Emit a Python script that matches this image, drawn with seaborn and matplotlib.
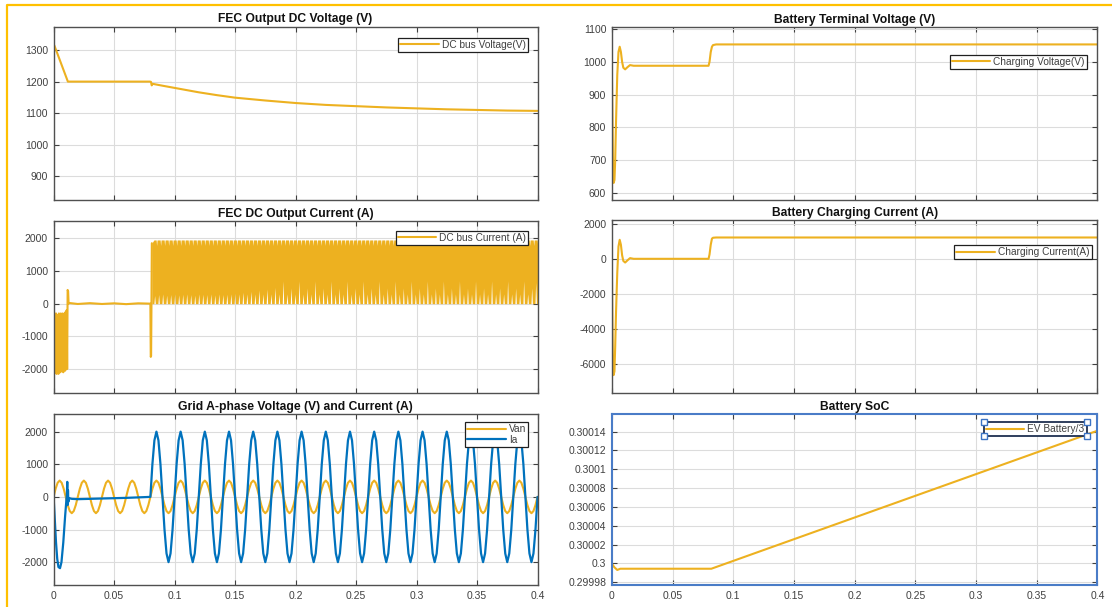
import numpy as np
import matplotlib
matplotlib.use("Agg")
import matplotlib.pyplot as plt
import seaborn as sns
from matplotlib.lines import Line2D

# ---------------- data ----------------

# FEC output DC voltage (V)
dcv_t = [0, 0, 0.0006, 0.0118, 0.0797, 0.0805, 0.0811, 0.0818, 0.09, 0.1, 0.11, 0.12,
         0.135, 0.15, 0.175, 0.2, 0.225, 0.25, 0.275, 0.3, 0.325, 0.35, 0.375, 0.4]
dcv = [882, 1290, 1315, 1200, 1200, 1199, 1188, 1193, 1187, 1180, 1173, 1166,
       1157, 1149, 1140, 1132, 1126, 1122, 1118, 1115, 1112, 1110, 1108, 1107]

# battery terminal voltage (V)
bv_t = [0, 0.0005, 0.001, 0.0015, 0.0022, 0.0028, 0.0035, 0.0045, 0.0055, 0.0065, 0.0075,
        0.0085, 0.0095, 0.011, 0.013, 0.015, 0.018, 0.0797, 0.0805, 0.0815, 0.0825, 0.0834, 0.086, 0.4]
bv = [988, 850, 680, 631, 640, 700, 820, 960, 1030, 1046, 1030,
      1000, 982, 977, 984, 990, 988, 988, 1000, 1030, 1046, 1051, 1053, 1053]

# battery charging current (A)
bi_t = bv_t
bi = [0, -3500, -6300, -6620, -6400, -5000, -3000, -800, 700, 1083, 800,
      200, -120, -211, -80, 40, 0, 0, 250, 800, 1150, 1200, 1214, 1214]

# FEC DC output current (A): start-up transient as a line ...
dci_t = [0, 0.0004, 0.0008, 0.0012, 0.0016, 0.002, 0.0024, 0.0028, 0.0032, 0.0036,
         0.004, 0.0044, 0.0048, 0.0052, 0.0056, 0.006, 0.0064, 0.0068, 0.0072, 0.0076,
         0.008, 0.0084, 0.0088, 0.0092, 0.0096, 0.01, 0.0104, 0.0108, 0.0112,
         0.0116, 0.012, 0.0124, 0.013, 0.02, 0.03, 0.04, 0.05, 0.06, 0.07,
         0.08, 0.0803, 0.0806, 0.0809, 0.0812]
dci = [0, -300, -1500, -350, -2000, -300, -2150, -400, -2100, -350,
       -2150, -300, -2000, -450, -2100, -300, -2050, -400, -1900, -300,
       -2100, -350, -2000, -300, -2050, -250, -1950, -200, -2000,
       420, 380, 0, 20, -10, 15, -10, 10, -15, 10,
       0, -1630, -1600, 0, 1850]
# ... and the switching band after 0.08 s (top level, notch level, bottom gap heights)
band_top = 1950
notch_lvl = 1780
slot_h = [250, 280, 300, 260, 280, 300, 270, 290, 300, 280, 260, 300, 290, 280, 300, 270,
          300, 280, 290, 300, 320, 300, 350, 300, 380, 300, 420, 300, 450, 300, 500, 300,
          700, 300, 480, 300, 700, 300, 480, 300, 700, 300, 480, 300, 700, 300, 480, 300,
          700, 300, 480, 300, 700, 300, 480, 300, 700, 300, 480, 300, 700, 300, 480, 300,
          700, 300, 480, 300, 700, 300, 480, 300, 700, 300, 480, 300, 700, 300, 480, 300,
          700, 300, 480, 300, 700, 300, 480, 300, 700, 300, 480, 300, 700, 300, 480, 650]

# grid A-phase voltage and current, sampled 12 times per 50 Hz cycle
t_ac = np.linspace(0, 0.4, 241)
van = [
    0, 250, 433, 500, 433, 250, 0, -250, -433, -500, -433, -250,
    0, 250, 433, 500, 433, 250, 0, -250, -433, -500, -433, -250,
    0, 250, 433, 500, 433, 250, 0, -250, -433, -500, -433, -250,
    0, 250, 433, 500, 433, 250, 0, -250, -433, -500, -433, -250,
    0, 250, 433, 500, 433, 250, 0, -250, -433, -500, -433, -250,
    0, 250, 433, 500, 433, 250, 0, -250, -433, -500, -433, -250,
    0, 250, 433, 500, 433, 250, 0, -250, -433, -500, -433, -250,
    0, 250, 433, 500, 433, 250, 0, -250, -433, -500, -433, -250,
    0, 250, 433, 500, 433, 250, 0, -250, -433, -500, -433, -250,
    0, 250, 433, 500, 433, 250, 0, -250, -433, -500, -433, -250,
    0, 250, 433, 500, 433, 250, 0, -250, -433, -500, -433, -250,
    0, 250, 433, 500, 433, 250, 0, -250, -433, -500, -433, -250,
    0, 250, 433, 500, 433, 250, 0, -250, -433, -500, -433, -250,
    0, 250, 433, 500, 433, 250, 0, -250, -433, -500, -433, -250,
    0, 250, 433, 500, 433, 250, 0, -250, -433, -500, -433, -250,
    0, 250, 433, 500, 433, 250, 0, -250, -433, -500, -433, -250,
    0, 250, 433, 500, 433, 250, 0, -250, -433, -500, -433, -250,
    0, 250, 433, 500, 433, 250, 0, -250, -433, -500, -433, -250,
    0, 250, 433, 500, 433, 250, 0, -250, -433, -500, -433, -250,
    0, 250, 433, 500, 433, 250, 0, -250, -433, -500, -433, -250,
    0]
# Ia start-up transient (before the converter starts at 0.08 s)
ia_t0 = [0, 0.001, 0.002, 0.003, 0.004, 0.0053, 0.0065, 0.008, 0.0095, 0.0105, 0.011,
         0.0113, 0.0116, 0.0119, 0.0122, 0.0125, 0.013, 0.015, 0.02, 0.03, 0.04, 0.05,
         0.06, 0.07]
ia_v0 = [0, -700, -1400, -1900, -2150, -2184, -2000, -1400, -600, -150, 100,
         460, -250, 200, -150, -60, -40, -60, -70, -60, -50, -40,
         -30, -15]
# Ia from 0.08 s on, same 12-per-cycle sampling as t_ac
ia_late = [
    0, 1000, 1732, 2000, 1732, 1000, 0, -1000, -1732, -2000, -1732, -1000,
    0, 1000, 1732, 2000, 1732, 1000, 0, -1000, -1732, -2000, -1732, -1000,
    0, 1000, 1732, 2000, 1732, 1000, 0, -1000, -1732, -2000, -1732, -1000,
    0, 1000, 1732, 2000, 1732, 1000, 0, -1000, -1732, -2000, -1732, -1000,
    0, 1000, 1732, 2000, 1732, 1000, 0, -1000, -1732, -2000, -1732, -1000,
    0, 1000, 1732, 2000, 1732, 1000, 0, -1000, -1732, -2000, -1732, -1000,
    0, 1000, 1732, 2000, 1732, 1000, 0, -1000, -1732, -2000, -1732, -1000,
    0, 1000, 1732, 2000, 1732, 1000, 0, -1000, -1732, -2000, -1732, -1000,
    0, 1000, 1732, 2000, 1732, 1000, 0, -1000, -1732, -2000, -1732, -1000,
    0, 1000, 1732, 2000, 1732, 1000, 0, -1000, -1732, -2000, -1732, -1000,
    0, 1000, 1732, 2000, 1732, 1000, 0, -1000, -1732, -2000, -1732, -1000,
    0, 1000, 1732, 2000, 1732, 1000, 0, -1000, -1732, -2000, -1732, -1000,
    0, 1000, 1732, 2000, 1732, 1000, 0, -1000, -1732, -2000, -1732, -1000,
    0, 1000, 1732, 2000, 1732, 1000, 0, -1000, -1732, -2000, -1732, -1000,
    0, 1000, 1732, 2000, 1732, 1000, 0, -1000, -1732, -2000, -1732, -1000,
    0, 1000, 1732, 2000, 1732, 1000, 0, -1000, -1732, -2000, -1732, -1000,
    0]

# battery SoC
soc_t = [0, 0.002, 0.0045, 0.007, 0.082, 0.4]
soc = [0.3, 0.299996, 0.299993, 0.2999943, 0.2999943, 0.300141]

x_ticks = [0, 0.05, 0.1, 0.15, 0.2, 0.25, 0.3, 0.35, 0.4]
x_labels = ["0", "0.05", "0.1", "0.15", "0.2", "0.25", "0.3", "0.35", "0.4"]
soc_ticks = [0.29998, 0.3, 0.30002, 0.30004, 0.30006, 0.30008, 0.3001, 0.30012, 0.30014]
soc_labels = ["0.29998", "0.3", "0.30002", "0.30004", "0.30006", "0.30008", "0.3001", "0.30012", "0.30014"]

# ---------------- styling ----------------
YEL = "#EDB120"
BLU = "#0072BD"

sns.set_theme(style="whitegrid")
plt.rcParams["font.family"] = ["Liberation Sans", "DejaVu Sans"]
plt.rcParams["axes.unicode_minus"] = False
plt.rcParams["axes.edgecolor"] = "#404040"
plt.rcParams["grid.color"] = "#DCDCDC"
plt.rcParams["grid.linewidth"] = 0.8

fig = plt.figure(figsize=(11.12, 6.07), dpi=100)
fig.patch.set_facecolor("white")

W, H = 1112, 607
def box(x0, x1, y0, y1):
    return [x0 / W, 1 - y1 / H, (x1 - x0) / W, (y1 - y0) / H]

ax1 = fig.add_axes(box(53.6, 537.5, 26.5, 200))
ax2 = fig.add_axes(box(611.8, 1097.4, 26.7, 200))
ax3 = fig.add_axes(box(53.6, 537.5, 221, 393))
ax4 = fig.add_axes(box(611.8, 1097.4, 220, 393))
ax5 = fig.add_axes(box(53.6, 537.5, 414, 585))
ax6 = fig.add_axes(box(611.8, 1097.4, 414, 585))

lw = 1.5
sns.lineplot(x=dcv_t, y=dcv, ax=ax1, color=YEL, lw=lw, estimator=None, sort=False, label="DC bus Voltage(V)")
sns.lineplot(x=bv_t, y=bv, ax=ax2, color=YEL, lw=lw, estimator=None, sort=False, label="Charging Voltage(V)")

# switching band envelope built from the read slot heights
slot_t = np.linspace(0.0835, 0.3985, len(slot_h))
env_t, env_lo, env_hi = [0.0812], [0], [1850]
for c, h in zip(slot_t, slot_h):
    m = c + 0.00165
    env_t += [c - 0.0006, c, c + 0.0006, m - 0.0004, m, m + 0.0004]
    env_lo += [0, h, 0, 0, 0, 0]
    env_hi += [band_top, band_top, band_top, band_top, notch_lvl, band_top]
ax3.fill_between(env_t, env_lo, env_hi, color=YEL, lw=0)
sns.lineplot(x=dci_t, y=dci, ax=ax3, color=YEL, lw=lw, estimator=None, sort=False, label="DC bus Current (A)")

sns.lineplot(x=bi_t, y=bi, ax=ax4, color=YEL, lw=lw, estimator=None, sort=False, label="Charging Current(A)")

sns.lineplot(x=t_ac, y=van, ax=ax5, color=YEL, lw=lw, estimator=None, sort=False, label="Van")
ia_t = list(ia_t0) + list(t_ac[48:])
ia = list(ia_v0) + list(ia_late)
sns.lineplot(x=ia_t, y=ia, ax=ax5, color=BLU, lw=1.6, estimator=None, sort=False, label="Ia")

sns.lineplot(x=soc_t, y=soc, ax=ax6, color=YEL, lw=lw, estimator=None, sort=False, label="EV Battery/3")

titles = ["FEC Output DC Voltage (V)", "Battery Terminal Voltage (V)",
          "FEC DC Output Current (A)", "Battery Charging Current (A)",
          "Grid A-phase Voltage (V) and Current (A)", "Battery SoC"]
ylims = [(824, 1375), (579, 1107), (-2735, 2530), (-7640, 2210), (-2700, 2540), (0.299977, 0.3001588)]
yticks = [[900, 1000, 1100, 1200, 1300], [600, 700, 800, 900, 1000, 1100],
          [-2000, -1000, 0, 1000, 2000], [-6000, -4000, -2000, 0, 2000],
          [-2000, -1000, 0, 1000, 2000], soc_ticks]
leg_anchor = [(0.980, 0.935), (0.978, 0.837), (0.981, 0.944), (0.988, 0.855), (0.981, 0.951), (0.978, 0.951)]

axes = [ax1, ax2, ax3, ax4, ax5, ax6]
for i, ax in enumerate(axes):
    ax.set_facecolor("white")
    ax.set_xlim(0, 0.4)
    ax.set_ylim(*ylims[i])
    ax.set_xticks(x_ticks)
    ax.set_yticks(yticks[i])
    if i == 5:
        ax.set_yticklabels(soc_labels)
    if i >= 4:
        ax.set_xticklabels(x_labels)
    else:
        ax.tick_params(labelbottom=False)
    ax.set_xlabel("")
    ax.set_ylabel("")
    ax.grid(True, color="#DCDCDC", lw=0.8)
    ax.set_axisbelow(True)
    ax.tick_params(direction="in", top=True, right=True, bottom=True, left=True,
                   length=3.5, width=0.8, color="#404040", labelsize=7.5,
                   labelcolor="#404040", pad=4)
    for s in ax.spines.values():
        s.set_color("#505050")
        s.set_linewidth(1.0)
    ax.set_title(titles[i], fontsize=8.7, fontweight="bold", pad=3, color="#111111")
    leg = ax.legend(loc="upper right", bbox_to_anchor=leg_anchor[i], borderaxespad=0,
                    fontsize=7.3, frameon=True, fancybox=False, framealpha=1,
                    handlelength=3.8, handletextpad=0.3, borderpad=0.2, labelspacing=0.05)
    leg.get_frame().set_edgecolor("#202020")
    leg.get_frame().set_linewidth(0.9)
    for txt in leg.get_texts():
        txt.set_color("#404040")

# selected SoC axes and legend (blue frame and handles)
for s in ax6.spines.values():
    s.set_color("#4A7CC7")
    s.set_linewidth(1.5)
soc_leg = ax6.get_legend()
soc_leg.get_frame().set_edgecolor("#1F2F50")
soc_leg.get_frame().set_linewidth(1.3)

fig.canvas.draw()
bb = soc_leg.get_window_extent().transformed(fig.transFigure.inverted())
fig.add_artist(Line2D([bb.x0, bb.x1, bb.x0, bb.x1], [bb.y0, bb.y0, bb.y1, bb.y1],
                      ls="none", marker="s", ms=5, mfc="white", mec="#3B73C4", mew=1.0,
                      transform=fig.transFigure))

# yellow selection border of the figure window
fig.add_artist(Line2D([7 / W, 7 / W, 1], [0, 1 - 5 / H, 1 - 5 / H], color="#FFC000",
                      lw=1.6, transform=fig.transFigure))

fig.savefig("out.png", dpi=100)
